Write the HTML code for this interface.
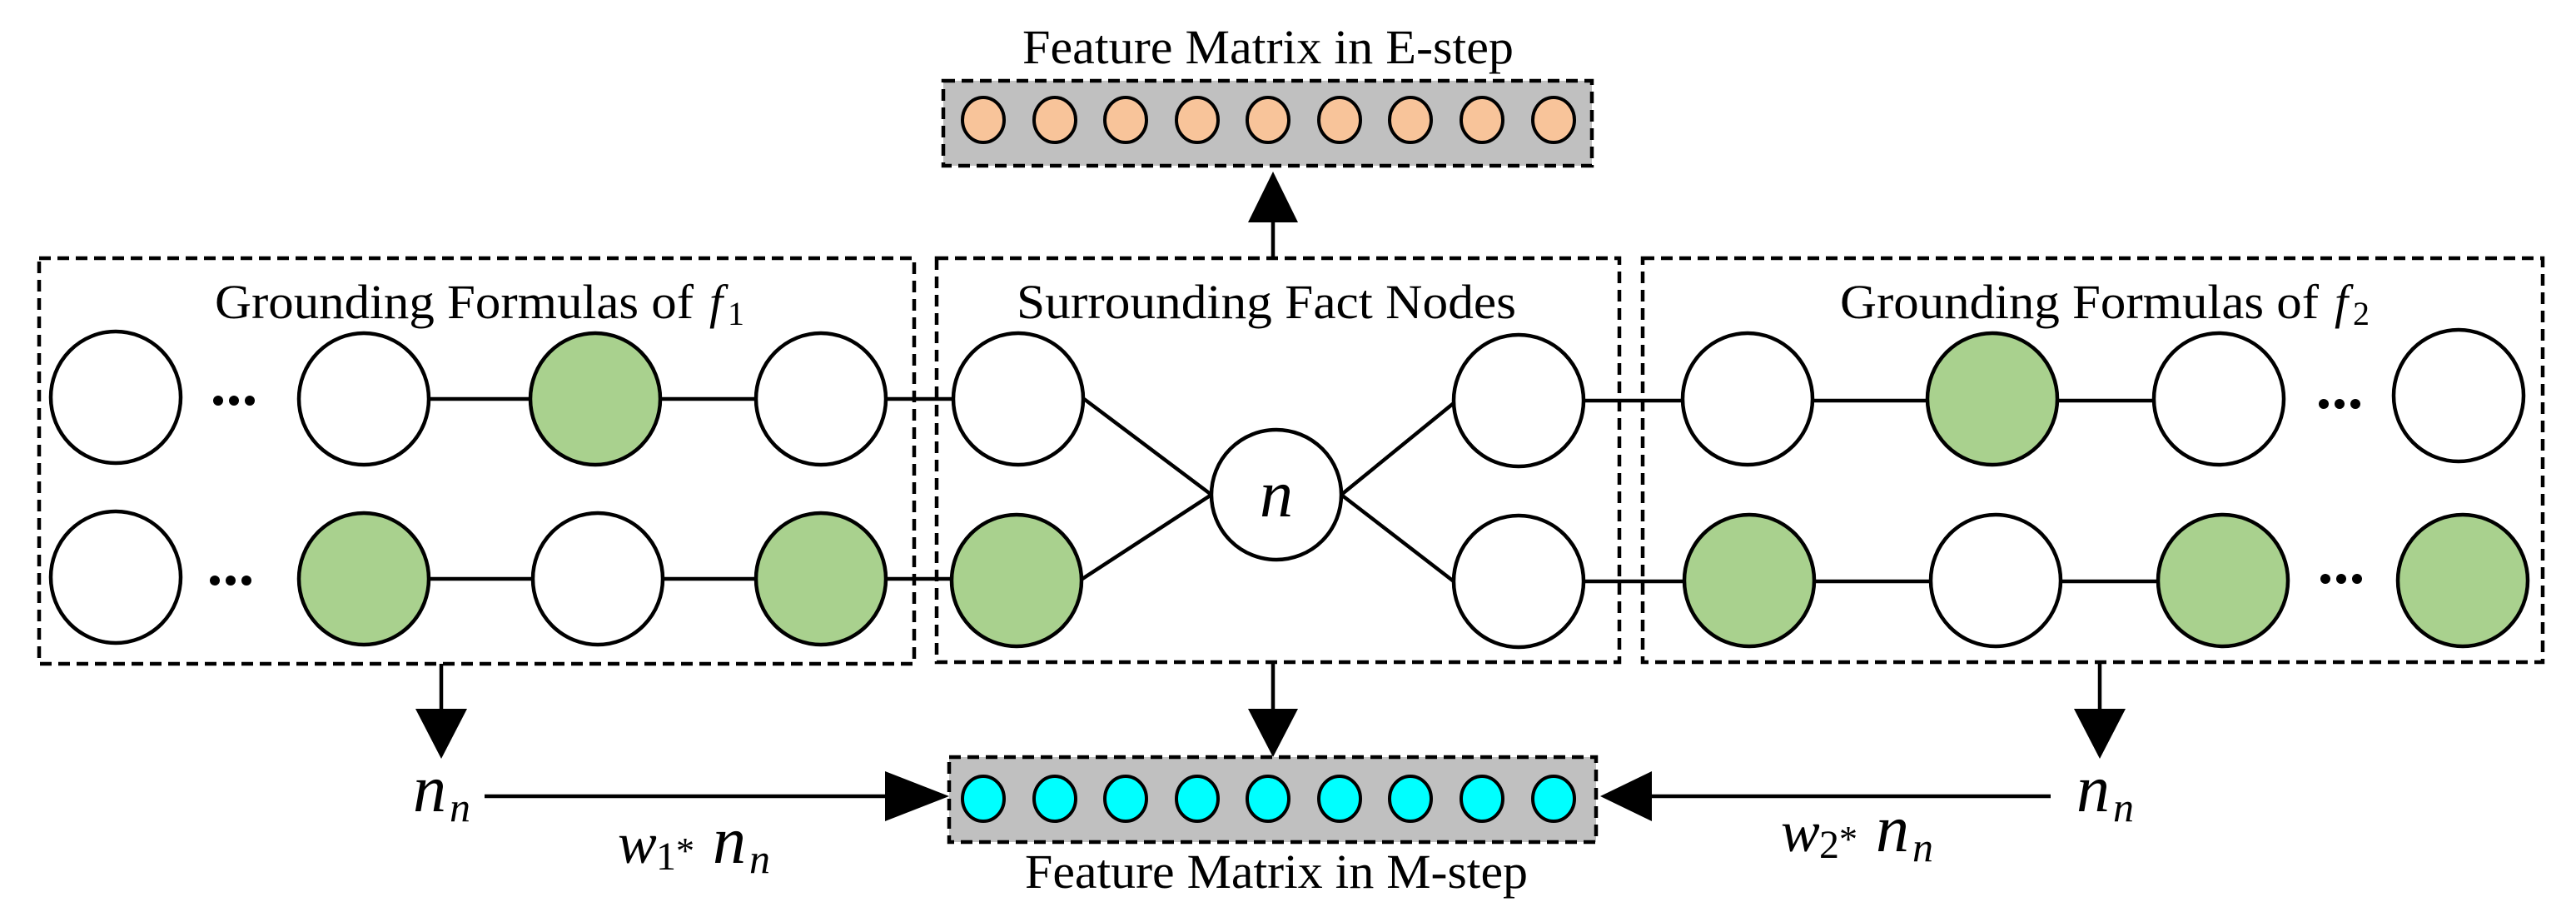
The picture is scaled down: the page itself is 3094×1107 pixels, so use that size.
<!DOCTYPE html>
<html><head><meta charset="utf-8"><style>html,body{margin:0;padding:0;background:#fff}svg{display:block}</style></head><body>
<svg width="3094" height="1107" viewBox="0 0 3094 1107" xmlns="http://www.w3.org/2000/svg" font-family="Liberation Serif, Times New Roman, serif">
<defs>
<g id="d"><circle cx="0" cy="0" r="6" fill="#000"/><circle cx="19" cy="0" r="6" fill="#000"/><circle cx="38" cy="0" r="6" fill="#000"/></g>
</defs>
<g fill="none" stroke="#000" stroke-width="4.5" stroke-dasharray="14 8">
<rect x="47" y="310" width="1051" height="487"/>
<rect x="1125" y="310" width="820" height="485"/>
<rect x="1973" y="310" width="1081" height="485"/>
<rect x="1133" y="97" width="779" height="102" fill="#c0c0c0"/>
<rect x="1140" y="909" width="777" height="102" fill="#c0c0c0"/>
</g>
<g font-size="58" fill="#000">
<text x="1228" y="76" textLength="590" lengthAdjust="spacingAndGlyphs">Feature Matrix in E-step</text>
<text x="1231" y="1066" textLength="604" lengthAdjust="spacingAndGlyphs">Feature Matrix in M-step</text>
<text x="258" y="382" textLength="575" lengthAdjust="spacingAndGlyphs">Grounding Formulas of</text>
<text x="852" y="382" font-style="italic">f</text><text x="874" y="390" font-size="40">1</text>
<text x="1221" y="382" textLength="600" lengthAdjust="spacingAndGlyphs">Surrounding  Fact Nodes</text>
<text x="2210" y="382" textLength="575" lengthAdjust="spacingAndGlyphs">Grounding Formulas of</text>
<text x="2804" y="382" font-style="italic">f</text><text x="2826" y="390" font-size="40">2</text>
</g>
<g stroke="#000" stroke-width="4.5" fill="none">
<line x1="437" y1="479" x2="1223" y2="479"/>
<line x1="437" y1="695" x2="1221" y2="695"/>
<line x1="1302" y1="479" x2="1455" y2="594"/><line x1="1300" y1="695" x2="1455" y2="594"/>
<line x1="1611" y1="594" x2="1746" y2="484"/><line x1="1611" y1="594" x2="1746" y2="698"/>
<line x1="1824" y1="481" x2="2665" y2="481"/>
<line x1="1824" y1="698" x2="2670" y2="698"/>
<line x1="1529" y1="310" x2="1529" y2="240"/>
<line x1="1529" y1="795" x2="1529" y2="870"/>
<line x1="530" y1="797" x2="530" y2="870"/>
<line x1="2522" y1="795" x2="2522" y2="870"/>
<line x1="582" y1="956" x2="1080" y2="956"/>
<line x1="2463" y1="956" x2="1960" y2="956"/>
</g>
<g fill="#000">
<polygon points="1529,206 1499,267 1559,267"/>
<polygon points="1529,909 1499,851 1559,851"/>
<polygon points="530,911 499,851 561,851"/>
<polygon points="2522,911 2491,851 2553,851"/>
<polygon points="1140,956 1063,926 1063,986"/>
<polygon points="1922,956 1984,926 1984,986"/>
</g>
<g stroke="#000" stroke-width="4.5">
<ellipse cx="139" cy="477" rx="78" ry="79" fill="#fff"/>
<ellipse cx="437" cy="479" rx="78" ry="79" fill="#fff"/>
<ellipse cx="715" cy="479" rx="78" ry="79" fill="#a9d18e"/>
<ellipse cx="986" cy="479" rx="78" ry="79" fill="#fff"/>
<ellipse cx="139" cy="693" rx="78" ry="79" fill="#fff"/>
<ellipse cx="437" cy="695" rx="78" ry="79" fill="#a9d18e"/>
<ellipse cx="718" cy="695" rx="78" ry="79" fill="#fff"/>
<ellipse cx="986" cy="695" rx="78" ry="79" fill="#a9d18e"/>
<ellipse cx="1223" cy="479" rx="78" ry="79" fill="#fff"/>
<ellipse cx="1221" cy="697" rx="78" ry="79" fill="#a9d18e"/>
<ellipse cx="1533" cy="594" rx="78" ry="78" fill="#fff"/>
<ellipse cx="1824" cy="481" rx="78" ry="79" fill="#fff"/>
<ellipse cx="1824" cy="698" rx="78" ry="79" fill="#fff"/>
<ellipse cx="2099" cy="479" rx="78" ry="79" fill="#fff"/>
<ellipse cx="2393" cy="479" rx="78" ry="79" fill="#a9d18e"/>
<ellipse cx="2665" cy="479" rx="78" ry="79" fill="#fff"/>
<ellipse cx="2953" cy="475" rx="78" ry="79" fill="#fff"/>
<ellipse cx="2101" cy="697" rx="78" ry="79" fill="#a9d18e"/>
<ellipse cx="2397" cy="697" rx="78" ry="79" fill="#fff"/>
<ellipse cx="2670" cy="697" rx="78" ry="79" fill="#a9d18e"/>
<ellipse cx="2958" cy="697" rx="78" ry="79" fill="#a9d18e"/>
</g>
<use href="#d" x="262" y="481"/><use href="#d" x="258" y="697"/>
<use href="#d" x="2791" y="485"/><use href="#d" x="2793" y="695"/>
<g stroke="#000" stroke-width="4" fill="#f8c49a">
<ellipse cx="1181" cy="144" rx="25" ry="27"/><ellipse cx="1267" cy="144" rx="25" ry="27"/><ellipse cx="1352" cy="144" rx="25" ry="27"/><ellipse cx="1438" cy="144" rx="25" ry="27"/><ellipse cx="1523" cy="144" rx="25" ry="27"/><ellipse cx="1609" cy="144" rx="25" ry="27"/><ellipse cx="1694" cy="144" rx="25" ry="27"/><ellipse cx="1780" cy="144" rx="25" ry="27"/><ellipse cx="1866" cy="144" rx="25" ry="27"/>
</g>
<g stroke="#000" stroke-width="4" fill="#00ffff">
<ellipse cx="1181" cy="959" rx="25" ry="27"/><ellipse cx="1267" cy="959" rx="25" ry="27"/><ellipse cx="1352" cy="959" rx="25" ry="27"/><ellipse cx="1438" cy="959" rx="25" ry="27"/><ellipse cx="1523" cy="959" rx="25" ry="27"/><ellipse cx="1609" cy="959" rx="25" ry="27"/><ellipse cx="1694" cy="959" rx="25" ry="27"/><ellipse cx="1780" cy="959" rx="25" ry="27"/><ellipse cx="1866" cy="959" rx="25" ry="27"/>
</g>
<g font-style="italic" fill="#000">
<text x="1533" y="620" font-size="80" text-anchor="middle">n</text>
<text x="496" y="974" font-size="80">n</text><text x="540" y="986" font-size="50">n</text>
<text x="2494" y="974" font-size="80">n</text><text x="2538" y="986" font-size="50">n</text>
<text x="742" y="1036" font-size="70">w</text><text x="788" y="1044" font-size="48" font-style="normal">1</text><text x="812" y="1036" font-size="44" font-style="normal">*</text>
<text x="856" y="1036" font-size="80">n</text><text x="900" y="1048" font-size="50">n</text>
<text x="2139" y="1022" font-size="70">w</text><text x="2185" y="1030" font-size="48" font-style="normal">2</text><text x="2209" y="1022" font-size="44" font-style="normal">*</text>
<text x="2253" y="1022" font-size="80">n</text><text x="2297" y="1034" font-size="50">n</text>
</g>
</svg>
</body></html>
